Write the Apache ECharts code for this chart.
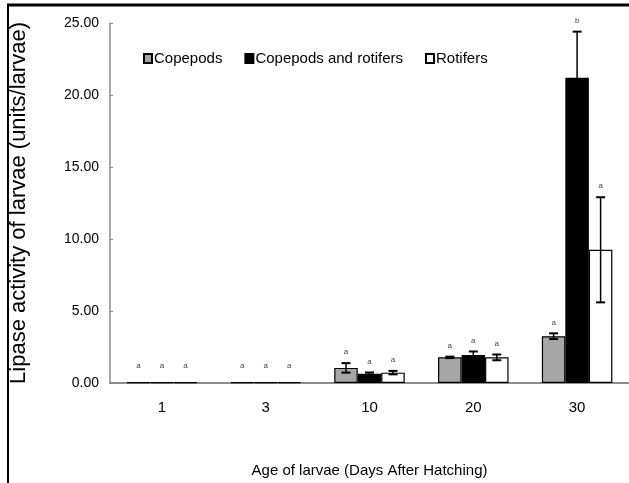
<!DOCTYPE html>
<html>
<head>
<meta charset="utf-8">
<script src="https://cdn.jsdelivr.net/npm/echarts@6/dist/echarts.min.js"></script>
<style>
html, body { margin: 0; padding: 0; background: #fff; }
#chart { width: 629px; height: 483px; }
</style>
</head>
<body>
<div id="chart"></div>
<script>
var myChart = echarts.init(document.getElementById("chart"));

var days = ['1', '3', '10', '20', '30'];
var yTicks = [0, 5, 10, 15, 20, 25];

var copepods = [0.05, 0.05, 1.05, 1.78, 3.25];
var copepodsErr = [0, 0, 0.33, 0.05, 0.2];
var copepodsSig = ['a', 'a', 'a', 'a', 'a'];

var copRot = [0.05, 0.05, 0.65, 1.95, 21.2];
var copRotErr = [0, 0, 0.08, 0.24, 3.2];
var copRotSig = ['a', 'a', 'a', 'a', 'b'];

var rotifers = [0.05, 0.05, 0.72, 1.78, 9.25];
var rotifersErr = [0, 0, 0.12, 0.2, 3.65];
var rotifersSig = ['a', 'a', 'a', 'a', 'a'];

var sans = "'Liberation Sans', Arial, sans-serif";
var BAR_W = 23.5;

function errSeries(vals, errs, sig, offset) {
    var data = [];
    for (var i = 0; i < vals.length; i++) {
        data.push([i, vals[i], errs[i]]);
    }
    return {
        type: 'custom',
        data: data,
        z: 5,
        silent: true,
        renderItem: function (params, api) {
            var cat = api.value(0), v = api.value(1), e = api.value(2);
            var p = api.coord([cat, v]);
            var x = p[0] + offset;
            var top = api.coord([cat, v + e])[1];
            var bot = api.coord([cat, v - e])[1];
            var base = api.coord([cat, 0])[1];
            var children = [];
            if (e > 0) {
                var st = { stroke: '#000', lineWidth: 1.5 };
                var cap = { stroke: '#000', lineWidth: 2 };
                children.push({ type: 'line', shape: { x1: x, y1: top, x2: x, y2: bot }, style: st });
                children.push({ type: 'line', shape: { x1: x - 4.5, y1: top, x2: x + 4.5, y2: top }, style: cap });
                children.push({ type: 'line', shape: { x1: x - 4.5, y1: bot, x2: x + 4.5, y2: bot }, style: cap });
            }
            children.push({
                type: 'text',
                style: {
                    x: x, y: Math.min(top - 11, base - 17),
                    text: sig[params.dataIndex],
                    fill: '#444', font: '8px ' + sans,
                    align: 'center', verticalAlign: 'middle'
                }
            });
            return { type: 'group', children: children };
        }
    };
}

function barSeries(name, vals, color) {
    return {
        name: name,
        type: 'bar',
        data: vals,
        barWidth: BAR_W,
        barGap: '0%',
        itemStyle: { color: color, borderColor: '#000', borderWidth: 1.2 }
    };
}

option = {
    backgroundColor: '#fff',
    animation: false,
    graphic: [
        { type: 'line', shape: { x1: 7, y1: 5, x2: 629, y2: 5 }, style: { stroke: '#000', lineWidth: 3 } },
        { type: 'line', shape: { x1: 8, y1: 5, x2: 8, y2: 483 }, style: { stroke: '#000', lineWidth: 2 } }
    ],
    legend: {
        data: ['Copepods', 'Copepods and rotifers', 'Rotifers'],
        icon: 'rect',
        left: 138,
        top: 46,
        itemWidth: 8,
        itemHeight: 9,
        itemGap: 22,
        textStyle: { fontFamily: sans, fontSize: 15, color: '#000', padding: [0, 0, 0, -3] }
    },
    grid: { left: 108, right: -4, top: 23, bottom: 98 },
    xAxis: {
        type: 'category',
        data: days,
        name: 'Age of larvae (Days After Hatching)',
        nameLocation: 'middle',
        nameGap: 80,
        nameTextStyle: { fontFamily: sans, fontSize: 15, color: '#000' },
        axisLine: { lineStyle: { color: '#8c8c8c', width: 2 } },
        axisTick: { inside: true, length: 5, lineStyle: { color: '#8c8c8c' } },
        axisLabel: { fontFamily: sans, fontSize: 15, color: '#000', margin: 17 }
    },
    yAxis: {
        type: 'value',
        min: 0,
        max: 25,
        interval: 5,
        name: 'Lipase activity of larvae (units/larvae)',
        nameLocation: 'middle',
        nameGap: 80,
        nameTextStyle: { fontFamily: sans, fontSize: 22, color: '#000' },
        axisLine: { show: true, lineStyle: { color: '#8c8c8c', width: 1.5 } },
        axisTick: { show: true, inside: true, length: 3, lineStyle: { color: '#8c8c8c' } },
        axisLabel: {
            fontFamily: sans, fontSize: 14, color: '#000', margin: 11,
            formatter: function (v) { return yTicks.indexOf(v) >= 0 ? v.toFixed(2) : ''; }
        },
        splitLine: { show: false }
    },
    series: [
        barSeries('Copepods', copepods, '#a6a6a6'),
        barSeries('Copepods and rotifers', copRot, '#000'),
        barSeries('Rotifers', rotifers, '#fff'),
        errSeries(copepods, copepodsErr, copepodsSig, -BAR_W),
        errSeries(copRot, copRotErr, copRotSig, 0),
        errSeries(rotifers, rotifersErr, rotifersSig, BAR_W)
    ]
};

myChart.setOption(option);
</script>
</body>
</html>
